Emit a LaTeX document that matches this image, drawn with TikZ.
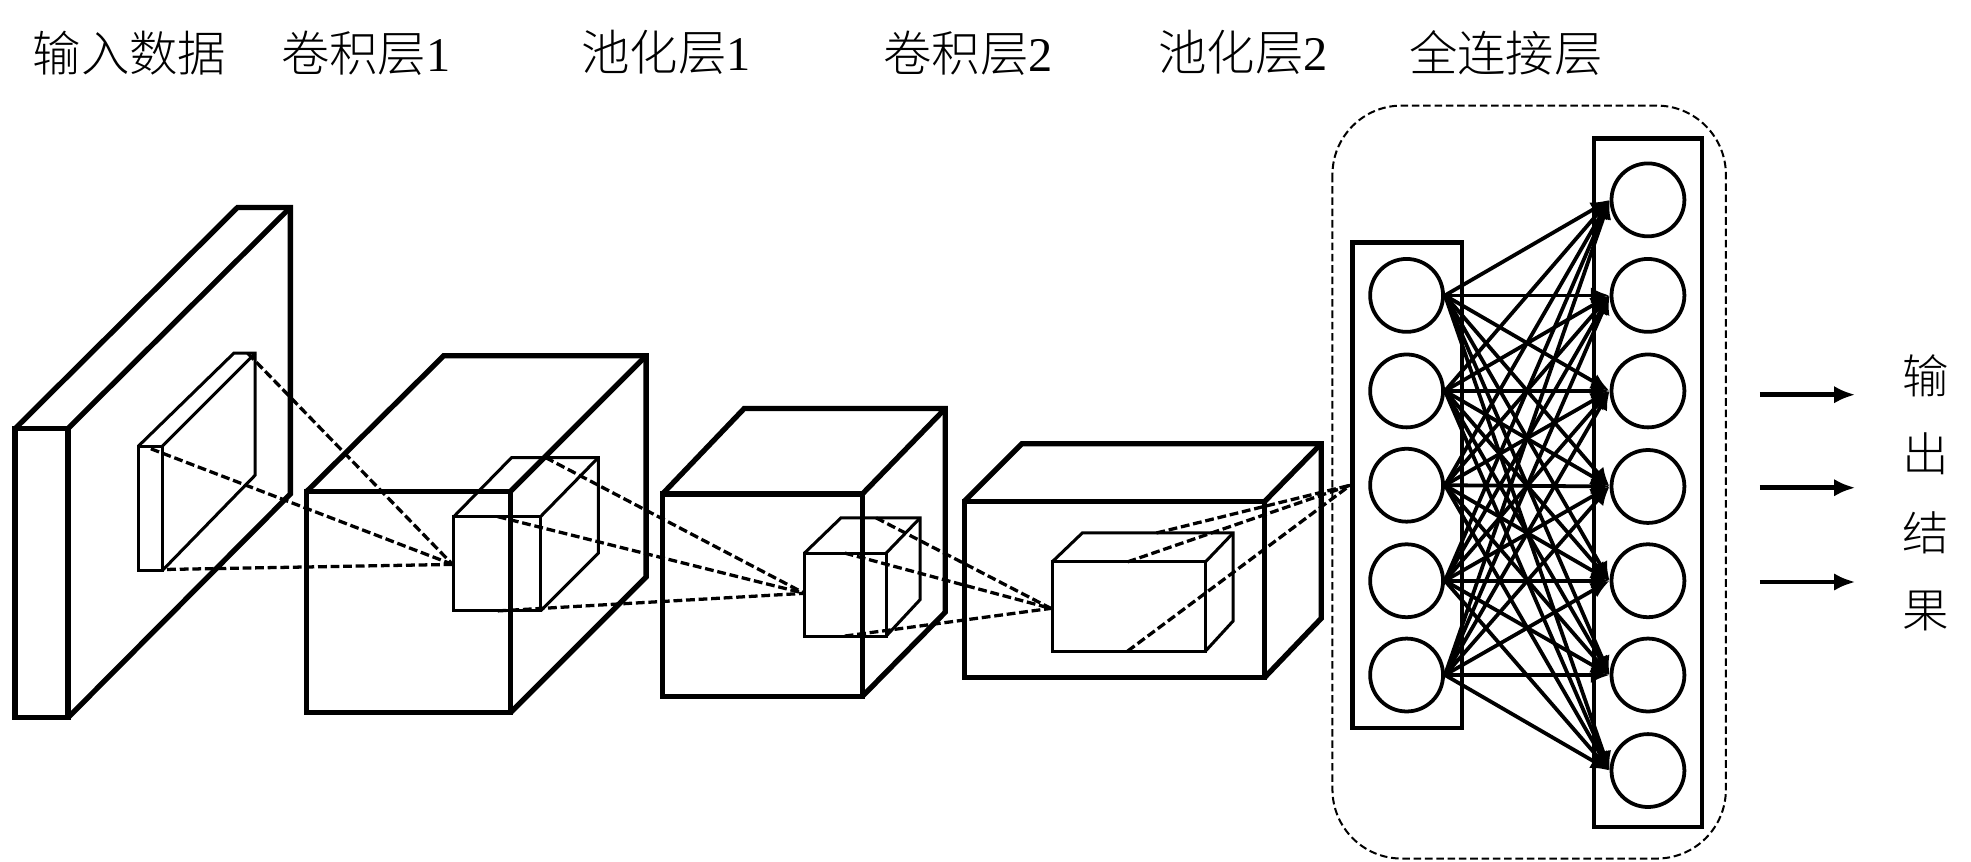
\documentclass[tikz,border=0pt]{standalone}
\usepackage{fontspec}
\setmainfont{Noto Sans CJK SC}[UprightFont=* Light]
\newfontfamily\latinfont{Liberation Serif}
\usetikzlibrary{arrows.meta}
\tikzset{
  heavy/.style={line width=4.2pt,line join=miter},
  thin box/.style={line width=2.4pt,line join=miter},
  proj/.style={line width=2.6pt,dash pattern=on 7pt off 3pt},
  title/.style={font=\fontsize{38.5}{38.5}\selectfont,inner sep=0pt,anchor=center},
  side/.style={font=\fontsize{37}{37}\selectfont,inner sep=0pt,anchor=center},
  neuron/.style={circle,draw,line width=3pt,minimum size=58pt,inner sep=0pt},
  layerbox/.style={draw,line width=3.6pt},
  link/.style={line width=3pt,-{Latex[length=15pt,width=13pt]}},
  outarrow/.style={line width=3.6pt,-{Latex[length=17pt,width=14pt]}},
  group/.style={draw,line width=1.6pt,dash pattern=on 6pt off 3pt,rounded corners=55pt}
}
\begin{document}
\begin{tikzpicture}[x=1pt,y=-1pt]
\useasboundingbox (0,0) rectangle (1568,685);
% titles
\node[title] (t1) at (103,42) {输入数据};
\node[title] (t2) at (291,42) {卷积层{\latinfont 1}};
\node[title] (t3) at (530,42) {池化层{\latinfont 1}};
\node[title] (t4) at (770,42) {卷积层{\latinfont 2}};
\node[title] (t5) at (989,42) {池化层{\latinfont 2}};
\node[title] (t6) at (1198,42) {全连接层};
% block 1
\draw[heavy] (12,341) rectangle (54,571);
\draw[heavy] (12,341) -- (189,165) -- (231,165) -- (231,393) -- (54,571);
\draw[heavy] (54,341) -- (231,165);
\draw[thin box] (110,355) rectangle (129,454);
\draw[thin box] (110,355) -- (186,281) -- (203,281) -- (203,378) -- (129,454);
\draw[thin box] (129,355) -- (203,281);
% block 2
\draw[heavy] (244,391) rectangle (406,567);
\draw[heavy] (244,391) -- (353,283) -- (514,283) -- (514,459) -- (406,567);
\draw[heavy] (406,391) -- (514,283);
\draw[thin box] (361,411) rectangle (430,486);
\draw[thin box] (361,411) -- (407,364) -- (476,364) -- (476,440) -- (430,486);
\draw[thin box] (430,411) -- (476,364);
% block 3
\draw[heavy] (527,393) rectangle (686,554);
\draw[heavy] (527,393) -- (592,325) -- (752,325) -- (752,487) -- (686,554);
\draw[heavy] (686,393) -- (752,325);
\draw[thin box] (640,440) rectangle (705,506);
\draw[thin box] (640,440) -- (669,412) -- (732,412) -- (732,477) -- (705,506);
\draw[thin box] (705,440) -- (732,412);
% block 4
\draw[heavy] (767,399) rectangle (1006,539);
\draw[heavy] (767,399) -- (813,353) -- (1051,353) -- (1051,492) -- (1006,539);
\draw[heavy] (1006,399) -- (1051,353);
\draw[thin box] (837,447) rectangle (959,518);
\draw[thin box] (837,447) -- (861,424) -- (981,424) -- (981,494) -- (959,518);
\draw[thin box] (959,447) -- (981,424);
% group and layers
\draw[group] (1060,84) rectangle (1373,683);
\node[layerbox,minimum width=87pt,minimum height=386pt,inner sep=0pt] (lbox) at (1119.5,386) {};
\node[layerbox,minimum width=86pt,minimum height=548pt,inner sep=0pt] (rbox) at (1311,384) {};
\foreach \i/\y in {1/235,2/311,3/386,4/462,5/537}
  \node[neuron] (a\i) at (1119,\y) {};
\foreach \i/\y in {1/159,2/235,3/311,4/387,5/462,6/537,7/613}
  \node[neuron] (b\i) at (1311,\y) {};
\foreach \i in {1,...,5}
  \foreach \j in {1,...,7}
    \draw[link] (a\i.east) -- (b\j.west);
% projection lines
\coordinate (p1a) at (197,281);
\coordinate (p1b) at (120,357);
\coordinate (p1c) at (133,453);
\coordinate (p1t) at (360,449);
\draw[proj] (p1a) -- (p1t);
\draw[proj] (p1b) -- (p1t);
\draw[proj] (p1c) -- (p1t);
\coordinate (p2a) at (434,364);
\coordinate (p2b) at (396,411);
\coordinate (p2c) at (396,486);
\coordinate (p2t) at (640,472);
\draw[proj] (p2a) -- (p2t);
\draw[proj] (p2b) -- (p2t);
\draw[proj] (p2c) -- (p2t);
\coordinate (p3a) at (697,412);
\coordinate (p3b) at (672,440);
\coordinate (p3c) at (672,506);
\coordinate (p3t) at (836,484);
\draw[proj] (p3a) -- (p3t);
\draw[proj] (p3b) -- (p3t);
\draw[proj] (p3c) -- (p3t);
\coordinate (p4a) at (920,424);
\coordinate (p4b) at (897,447);
\coordinate (p4c) at (897,518);
\draw[proj] (p4a) -- (lbox.west);
\draw[proj] (p4b) -- (lbox.west);
\draw[proj] (p4c) -- (lbox.west);
% outputs
\coordinate (o1s) at (1400,314); \coordinate (o1e) at (1476,314);
\coordinate (o2s) at (1400,388); \coordinate (o2e) at (1476,388);
\coordinate (o3s) at (1400,463); \coordinate (o3e) at (1476,463);
\draw[outarrow] (o1s) -- (o1e);
\draw[outarrow] (o2s) -- (o2e);
\draw[outarrow] (o3s) -- (o3e);
\node[side] (r1) at (1532,299) {输};
\node[side] (r2) at (1532,361) {出};
\node[side] (r3) at (1532,424) {结};
\node[side] (r4) at (1532,486) {果};
\end{tikzpicture}
\end{document}
